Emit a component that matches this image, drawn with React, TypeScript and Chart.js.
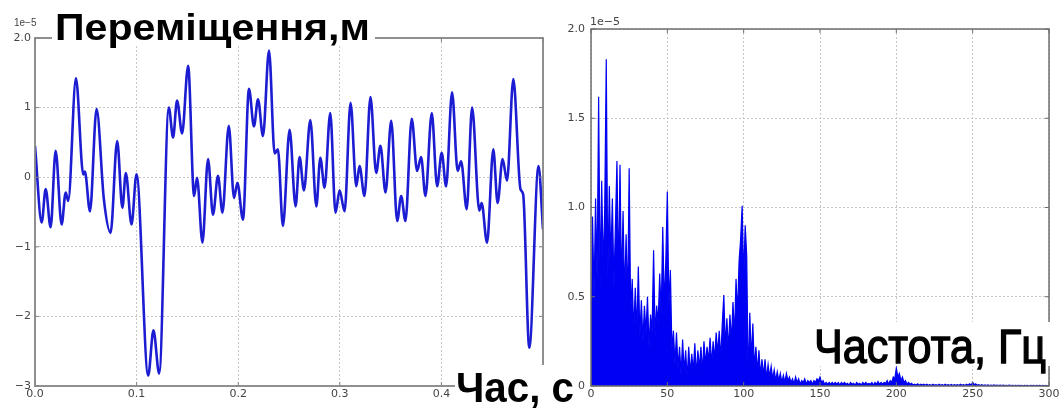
import React, { useEffect, useLayoutEffect, useRef } from 'react';
import { Chart, registerables } from 'chart.js';

Chart.register(...registerables);

// ---------- Left panel: displacement (x 1e-5 m) vs time (s), extrema ----------
const timeS = [
  0.0, 0.0066, 0.0105, 0.0154, 0.0203, 0.0262, 0.0302, 0.0327, 0.0403, 0.0475,
  0.0491, 0.0541, 0.0606, 0.0678, 0.0744, 0.0809, 0.086, 0.0894, 0.095, 0.0999,
  0.1114, 0.1166, 0.1222, 0.1317, 0.1359, 0.1398, 0.1448, 0.1507, 0.1566, 0.1595,
  0.1648, 0.1703, 0.1752, 0.1801, 0.1845, 0.1907, 0.1959, 0.1992, 0.2047, 0.2106,
  0.2155, 0.2195, 0.2244, 0.2303, 0.2359, 0.2391, 0.244, 0.2506, 0.2565, 0.2604,
  0.2647, 0.271, 0.2769, 0.2808, 0.285, 0.2906, 0.2958, 0.2998, 0.3047, 0.3106,
  0.3162, 0.3194, 0.3243, 0.3302, 0.3358, 0.34, 0.345, 0.3506, 0.3565, 0.3604,
  0.3646, 0.3708, 0.3761, 0.38, 0.3843, 0.3905, 0.3958, 0.4003, 0.4046, 0.4105,
  0.416, 0.4194, 0.4249, 0.4302, 0.4373, 0.4396, 0.4449, 0.4511, 0.4553, 0.4602,
  0.4646, 0.4708, 0.4778, 0.4805, 0.4865, 0.4956, 0.5,
];
const displacement = [
  0.45, -0.65, -0.17, -0.72, 0.38, -0.68, -0.22, -0.34, 1.42, 0.04,
  0.08, -0.49, 0.98, -0.32, -0.8, 0.52, -0.44, 0.06, -0.68, 0.04,
  -2.85, -2.2, -2.82, 1.0, 0.57, 1.1, 0.63, 1.6, -0.27, -0.01,
  -0.94, 0.26, -0.54, 0.02, -0.51, 0.74, -0.3, -0.08, -0.61, 1.27,
  0.73, 1.12, 0.59, 1.82, 0.34, 0.4, -0.7, 0.68, -0.42, 0.29,
  -0.19, 0.82, -0.42, 0.28, -0.15, 0.92, -0.51, -0.19, -0.49, 1.07,
  -0.13, 0.16, -0.27, 1.15, 0.06, 0.45, -0.22, 0.81, -0.63, -0.27,
  -0.63, 0.84, 0.09, 0.29, -0.27, 0.92, -0.13, 0.35, -0.13, 1.22,
  0.09, 0.23, -0.46, 1.0, -0.48, -0.37, -0.94, 0.4, -0.37, 0.26,
  -0.05, 1.41, -0.17, -0.25, -2.45, 0.16, -0.75,
];
const timeTicks = [0, 0.1, 0.2, 0.3, 0.4, 0.5];
const timeTickLabels = ['0.0', '0.1', '0.2', '0.3', '0.4', '0.5'];
const dispTicks = [-3, -2, -1, 0, 1, 2];
const dispTickLabels = ['\u22123', '\u22122', '\u22121', '0', '1', '2.0'];

// ---------- Right panel: amplitude spectrum (x 1e-5), one value per 1 Hz from 0 Hz ----------
const spectrumStartHz = 0;
const spectrumStepHz = 1;
const spectrumAmp = [
  0.1, 0.95, 0.5, 1.05, 0.6, 1.62, 0.55, 1.15, 0.65, 1.0,
  1.83, 0.6, 1.12, 0.7, 1.05, 0.55, 0.9, 1.26, 0.6, 1.24,
  0.55, 0.98, 0.5, 0.85, 0.45, 1.22, 0.4, 0.6, 0.3, 0.55,
  0.3, 0.67, 0.28, 0.48, 0.25, 0.45, 0.3, 0.5, 0.22, 0.4,
  0.3, 0.76, 0.28, 0.45, 0.35, 0.63, 0.4, 0.89, 0.45, 0.7,
  1.09, 0.45, 0.65, 0.2, 0.31, 0.12, 0.3, 0.1, 0.22, 0.06,
  0.26, 0.08, 0.2, 0.04, 0.22, 0.07, 0.18, 0.08, 0.24, 0.06,
  0.2, 0.1, 0.22, 0.08, 0.25, 0.12, 0.22, 0.14, 0.27, 0.12,
  0.25, 0.15, 0.3, 0.18, 0.31, 0.15, 0.35, 0.51, 0.22, 0.38,
  0.2, 0.4, 0.25, 0.47, 0.28, 0.6, 0.4, 0.7, 0.82, 1.01,
  0.6, 0.9, 0.73, 0.02, 0.41, 0.15, 0.35, 0.1, 0.22, 0.08,
  0.2, 0.06, 0.15, 0.06, 0.15, 0.04, 0.12, 0.05, 0.11, 0.04,
  0.09, 0.03, 0.08, 0.03, 0.07, 0.02, 0.06, 0.02, 0.07, 0.03,
  0.05, 0.02, 0.04, 0.01, 0.05, 0.02, 0.04, 0.01, 0.03, 0.02,
  0.04, 0.01, 0.03, 0.02, 0.03, 0.01, 0.03, 0.02, 0.04, 0.03,
  0.05, 0.02, 0.03, 0.01, 0.02, 0.01, 0.02, 0.01, 0.02, 0.01,
  0.02, 0.01, 0.02, 0.005, 0.02, 0.01, 0.02, 0.01, 0.015, 0.005,
  0.02, 0.01, 0.015, 0.005, 0.02, 0.01, 0.015, 0.005, 0.02, 0.01,
  0.02, 0.01, 0.015, 0.01, 0.02, 0.005, 0.02, 0.01, 0.025, 0.01,
  0.02, 0.01, 0.02, 0.015, 0.03, 0.01, 0.03, 0.02, 0.05, 0.04,
  0.1, 0.05, 0.07, 0.03, 0.05, 0.02, 0.03, 0.01, 0.02, 0.01,
  0.015, 0.005, 0.01, 0.005, 0.012, 0.004, 0.01, 0.005, 0.01, 0.004,
  0.01, 0.004, 0.008, 0.003, 0.01, 0.004, 0.008, 0.003, 0.01, 0.004,
  0.008, 0.003, 0.01, 0.004, 0.008, 0.003, 0.009, 0.003, 0.008, 0.004,
  0.008, 0.003, 0.01, 0.004, 0.008, 0.003, 0.01, 0.004, 0.012, 0.005,
  0.02, 0.008, 0.012, 0.004, 0.008, 0.003, 0.007, 0.003, 0.006, 0.002,
  0.006, 0.002, 0.005, 0.002, 0.006, 0.002, 0.005, 0.002, 0.005, 0.002,
  0.005, 0.002, 0.004, 0.002, 0.005, 0.002, 0.004, 0.002, 0.004, 0.002,
  0.004, 0.002, 0.004, 0.001, 0.004, 0.002, 0.003, 0.001, 0.004, 0.002,
  0.003, 0.001, 0.003, 0.002, 0.003, 0.001, 0.003, 0.001, 0.003, 0.001,
  0.002,
];
const freqTicks = [0, 50, 100, 150, 200, 250, 300];
const freqTickLabels = ['0', '50', '100', '150', '200', '250', '300'];
const ampTicks = [0, 0.5, 1.0, 1.5, 2.0];
const ampTickLabels = ['0', '0.5', '1.0', '1.5', '2.0'];

const titleText = 'Переміщення,м';
const timeLabel = 'Час, с';
const freqLabel = 'Частота, Гц';
const offsetText = '1e\u22125';

// ---------- helpers ----------
const TICK_FONT = { family: '"DejaVu Sans", sans-serif', size: 11 };
const TEXT_FAMILY = '"Liberation Sans", Arial, sans-serif';

const framePlugin = {
  id: 'mplFrame',
  afterDatasetsDraw(chart: any, _args: any, opts: any) {
    const { ctx, chartArea: a, scales } = chart;
    ctx.save();
    ctx.strokeStyle = opts.color;
    ctx.lineWidth = 1;
    const tl = 4;
    scales.x.ticks.forEach((t: any) => {
      const p = scales.x.getPixelForValue(t.value);
      ctx.beginPath();
      ctx.moveTo(p, a.bottom); ctx.lineTo(p, a.bottom - tl);
      ctx.moveTo(p, a.top); ctx.lineTo(p, a.top + tl);
      ctx.stroke();
    });
    scales.y.ticks.forEach((t: any) => {
      const p = scales.y.getPixelForValue(t.value);
      ctx.beginPath();
      ctx.moveTo(a.left, p); ctx.lineTo(a.left + tl, p);
      ctx.moveTo(a.right, p); ctx.lineTo(a.right - tl, p);
      ctx.stroke();
    });
    ctx.lineWidth = opts.width;
    ctx.strokeRect(a.left, a.top, a.right - a.left, a.bottom - a.top);
    ctx.restore();
  },
};

function makeScale(
  min: number, max: number, ticks: number[], labels: string[],
  isX: boolean, size: number, padding: number,
) {
  return {
    type: 'linear',
    min, max,
    afterBuildTicks: (s: any) => { s.ticks = ticks.map((v) => ({ value: v })); },
    afterFit: (s: any) => { if (isX) s.height = size; else s.width = size; },
    ticks: {
      callback: (_v: any, i: number) => labels[i],
      font: TICK_FONT,
      color: '#444',
      padding,
      autoSkip: false,
      maxRotation: 0,
    },
    grid: { color: '#c6c6c6', lineWidth: 1, drawTicks: false },
    border: { display: false, dash: [2, 2] },
  };
}

function useChart(ref: React.RefObject<HTMLCanvasElement>, build: () => any) {
  useEffect(() => {
    if (!ref.current) return;
    const chart = new Chart(ref.current, build());
    return () => chart.destroy();
  }, []);
}

function TimeChart() {
  const ref = useRef<HTMLCanvasElement>(null);
  useChart(ref, () => ({
    type: 'line',
    data: {
      datasets: [{
        data: timeS.map((t, i) => ({ x: t, y: displacement[i] })),
        borderColor: '#1c1cd2',
        borderWidth: 2.6,
        pointRadius: 0,
        cubicInterpolationMode: 'monotone',
        fill: false,
      }],
    },
    options: {
      animation: false,
      responsive: false,
      devicePixelRatio: 1,
      events: [],
      layout: { padding: { top: 38, right: 17, left: 0, bottom: 0 } },
      scales: {
        x: makeScale(0, 0.5, timeTicks, timeTickLabels, true, 22, 2),
        y: makeScale(-3, 2, dispTicks, dispTickLabels, false, 35, 4),
      },
      plugins: {
        legend: { display: false },
        tooltip: { enabled: false },
        mplFrame: { color: '#858585', width: 1.8 },
      },
    },
    plugins: [framePlugin],
  }));
  return <canvas ref={ref} width={560} height={408}
    style={{ position: 'absolute', left: 0, top: 0, width: 560, height: 408, display: 'block' }} />;
}

function SpectrumChart() {
  const ref = useRef<HTMLCanvasElement>(null);
  useChart(ref, () => ({
    type: 'line',
    data: {
      datasets: [{
        data: spectrumAmp.map((v, i) => ({ x: spectrumStartHz + i * spectrumStepHz, y: v })),
        borderColor: '#0000f2',
        backgroundColor: '#0000f2',
        borderWidth: 1.2,
        pointRadius: 0,
        tension: 0,
        fill: 'origin',
      }],
    },
    options: {
      animation: false,
      responsive: false,
      devicePixelRatio: 1,
      events: [],
      layout: { padding: { top: 29, right: 15, left: 0, bottom: 0 } },
      scales: {
        x: makeScale(0, 300, freqTicks, freqTickLabels, true, 22, 2),
        y: makeScale(0, 2, ampTicks, ampTickLabels, false, 31, 6),
      },
      plugins: {
        legend: { display: false },
        tooltip: { enabled: false },
        filler: { propagate: false },
        mplFrame: { color: '#6e6e6e', width: 1.5 },
      },
    },
    plugins: [framePlugin],
  }));
  return <canvas ref={ref} width={504} height={408}
    style={{ position: 'absolute', left: 560, top: 0, width: 504, height: 408, display: 'block' }} />;
}

function FitText(props: {
  text: string; left: number; baseline: number; size: number; weight: number;
  width: number; stroke?: number;
}) {
  const { text, left, baseline, size, weight, width, stroke } = props;
  const ref = useRef<HTMLSpanElement>(null);
  useLayoutEffect(() => {
    const el = ref.current;
    if (!el) return;
    el.style.transform = 'none';
    const natural = el.getBoundingClientRect().width;
    if (natural > 0) el.style.transform = `scaleX(${width / natural})`;
  }, [text, width, size]);
  const top = baseline - 0.8465 * size;
  const style: any = {
    position: 'absolute', left, top, fontSize: size, lineHeight: `${size}px`,
    fontWeight: weight, fontFamily: TEXT_FAMILY, whiteSpace: 'nowrap',
    transformOrigin: '0 0', color: '#000',
  };
  if (stroke) style.WebkitTextStroke = `${stroke}px #000`;
  return <span ref={ref} style={style}>{text}</span>;
}

function WhiteBox(p: { left: number; top: number; width: number; height: number }) {
  return <div style={{ position: 'absolute', background: '#fff', ...p }} />;
}

export default function App() {
  return (
    <div style={{
      position: 'absolute', left: 0, top: 0, width: 1064, height: 408,
      background: '#fff', overflow: 'hidden',
    }}>
      <TimeChart />
      <SpectrumChart />
      <span style={{ position: 'absolute', left: 14, top: 18, fontSize: 10, lineHeight: '10px',
        fontFamily: TEXT_FAMILY, color: '#444' }}>{offsetText}</span>
      <span style={{ position: 'absolute', left: 590, top: 16, fontSize: 11, lineHeight: '11px',
        fontFamily: '"DejaVu Sans", sans-serif', color: '#444' }}>{offsetText}</span>
      <WhiteBox left={52} top={4} width={323} height={42} />
      <FitText text={titleText} left={55} baseline={40} size={36} weight={700} width={315} />
      <WhiteBox left={455} top={365} width={122} height={43} />
      <FitText text={timeLabel} left={456} baseline={403} size={42} weight={700} width={118} />
      <WhiteBox left={812} top={322} width={238} height={44} />
      <FitText text={freqLabel} left={814} baseline={363} size={49} weight={400} width={232} stroke={1.4} />
    </div>
  );
}
